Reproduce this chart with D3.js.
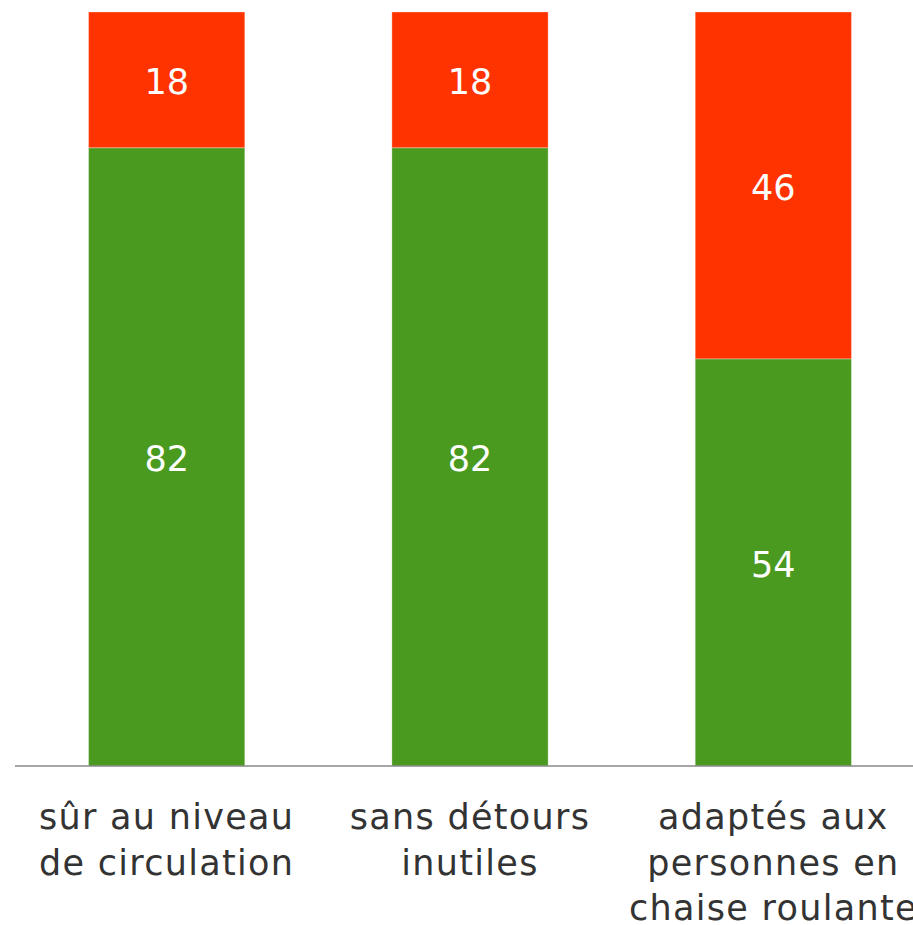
<!DOCTYPE html>
<html>
<head>
<meta charset="utf-8">
<script src="https://cdn.jsdelivr.net/npm/d3@7"></script>
<style>
  body { margin: 0; background: #fff; }
  svg { display: block; font-family: "DejaVu Sans", Verdana, sans-serif; }
</style>
</head>
<body>
<div id="chart"></div>
<script>
var categories = [
    ['sûr au niveau', 'de circulation'],
    ['sans détours', 'inutiles'],
    ['adaptés aux', 'personnes en', 'chaise roulante']
];
var seriesNames = ['oui', 'non'];
var greenValues = [82, 82, 54];
var redValues = [18, 18, 46];
var colors = ['#4a9a20', '#ff3300'];

var width = 913,
    height = 925,
    mLeft = 15,
    mRight = 925,
    mTop = 12,
    mBottom = 766,
    fontsize = 35;

var svg = d3.select('#chart').append('svg')
    .attr('width', width)
    .attr('height', height);

var xScale = d3.scaleBand()
    .domain(d3.range(categories.length))
    .range([mLeft, mRight])
    .paddingInner(0.485)
    .paddingOuter(0.2425);

var yScale = d3.scaleLinear()
    .domain([0, 100])
    .range([mBottom, mTop]);

// stack rows: green at bottom, red on top
var rows = categories.map(function(c, i) {
    return {oui: greenValues[i], non: redValues[i]};
});
var stacked = d3.stack().keys(seriesNames)(rows);

var layers = svg.append('g').selectAll('g.layer')
    .data(stacked)
    .enter()
    .append('g')
    .attr('class', 'layer')
    .attr('fill', function(d, i) { return colors[i]; });

layers.selectAll('rect')
    .data(function(d) { return d; })
    .enter()
    .append('rect')
    .attr('x', function(d, i) { return xScale(i); })
    .attr('y', function(d) { return yScale(d[1]); })
    .attr('width', xScale.bandwidth())
    .attr('height', function(d) { return yScale(d[0]) - yScale(d[1]); })
    .attr('stroke', 'rgba(255,255,255,0.3)')
    .attr('stroke-width', 1);

layers.selectAll('text')
    .data(function(d) { return d; })
    .enter()
    .append('text')
    .attr('x', function(d, i) { return xScale(i) + xScale.bandwidth() / 2; })
    .attr('y', function(d) { return (yScale(d[0]) + yScale(d[1])) / 2; })
    .attr('dy', '0.41em')
    .attr('text-anchor', 'middle')
    .attr('fill', '#fff')
    .style('font-size', fontsize + 'px')
    .text(function(d) { return d[1] - d[0]; });

// x axis
var xAxis = d3.axisBottom(xScale)
    .tickSize(0)
    .tickSizeOuter(0);

var xx = svg.append('g')
    .attr('transform', 'translate(0,' + mBottom + ')')
    .call(xAxis);

xx.select('.domain')
    .attr('stroke', '#888')
    .attr('stroke-width', 1.5)
    .attr('d', 'M' + mLeft + ',0H' + mRight);

xx.selectAll('.tick text')
    .attr('fill', '#333')
    .style('font-size', fontsize + 'px')
    .style('letter-spacing', '1.3px')
    .style('font-family', '"DejaVu Sans", Verdana, sans-serif')
    .each(function(d) {
        var text = d3.select(this).text(null).attr('y', 0).attr('dy', null);
        categories[d].forEach(function(line, j) {
            text.append('tspan')
                .attr('x', 0)
                .attr('y', 63 + j * 45.5)
                .text(line);
        });
    });
</script>
</body>
</html>
